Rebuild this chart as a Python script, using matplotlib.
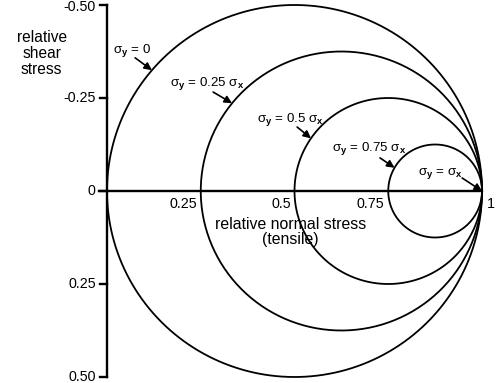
import numpy as np
import matplotlib.pyplot as plt

plt.rcParams['font.family'] = ['Liberation Sans', 'DejaVu Sans']
plt.rcParams['mathtext.fontset'] = 'custom'
plt.rcParams['mathtext.rm'] = 'Liberation Sans'
plt.rcParams['mathtext.it'] = 'Liberation Sans'
plt.rcParams['mathtext.bf'] = 'Liberation Sans:bold'

# ratio sigma_y / sigma_x for each Mohr circle
ratios = [0, 0.25, 0.5, 0.75, 1.0]
labels = [r'$\sigma_\mathbf{y}$ = 0', r'$\sigma_\mathbf{y}$ = 0.25 $\sigma_\mathbf{x}$',
          r'$\sigma_\mathbf{y}$ = 0.5 $\sigma_\mathbf{x}$', r'$\sigma_\mathbf{y}$ = 0.75 $\sigma_\mathbf{x}$',
          r'$\sigma_\mathbf{y}$ = $\sigma_\mathbf{x}$']
# where along each circle the arrow lands (degrees)
arrow_angle = [139.5, 141, 145.5, 150, 180]
text_pos = [(0.067, -0.379), (0.267, -0.290), (0.488, -0.191), (0.699, -0.113), (0.888, -0.046)]
arrow_start = [(0.075, -0.358), (0.283, -0.266), (0.507, -0.172), (0.728, -0.089), (0.947, -0.035)]

x_ticks = [0.25, 0.5, 0.75, 1]
x_ticklabels = ['0.25', '0.5', '0.75', '1']
y_ticks = [-0.5, -0.25, 0, 0.25, 0.5]
y_ticklabels = ['-0.50', '-0.25', '0', '0.25', '0.50']

fig = plt.figure(figsize=(5, 3.83), dpi=100)
ax = fig.add_axes([0, 0, 1, 1])
ax.set_xlim(-107 / 375, 393 / 375)
ax.set_ylim(192 / 372, -191 / 372)

t = np.linspace(0, 2 * np.pi, 400)
for r in ratios[:-1]:
    c = (1 + r) / 2
    R = (1 - r) / 2
    ax.plot(c + R * np.cos(t), R * np.sin(t), color='black', lw=1.3)

for r, lab, ang, tp, st in zip(ratios, labels, arrow_angle, text_pos, arrow_start):
    c = (1 + r) / 2
    R = (1 - r) / 2
    a = np.radians(ang)
    tip = (c + R * np.cos(a), -R * np.sin(a))
    ax.text(tp[0], tp[1], lab, ha='center', va='center', fontsize=9.6)
    ax.annotate('', xy=tip, xytext=st,
                arrowprops=dict(arrowstyle='-|>', color='black', lw=1.2,
                                mutation_scale=11, shrinkA=0, shrinkB=0))

# axes
ax.plot([-0.02, 1], [0, 0], color='black', lw=1.7)
ax.plot([0, 0], [-0.5, 0.5], color='black', lw=1.7)
for yv, yl in zip(y_ticks, y_ticklabels):
    ax.plot([-0.018, 0], [yv, yv], color='black', lw=1.7)
    ty = yv + 0.006 if yv == y_ticks[0] else yv
    ax.text(-0.03, ty, yl, ha='right', va='center', fontsize=10.3)
for xv, xl in zip(x_ticks[:-1], x_ticklabels[:-1]):
    ax.text(xv - 0.01, 0.036, xl, ha='right', va='center', fontsize=10.3)
ax.text(1.013, 0.036, x_ticklabels[-1], ha='left', va='center', fontsize=10.3)

ax.text(0.49, 0.11, 'relative normal stress\n(tensile)', ha='center', va='center',
        fontsize=11.4, linespacing=1.05)
ax.text(-0.174, -0.37, 'relative\nshear\nstress', ha='center', va='center',
        fontsize=11.2, linespacing=1.1)

ax.axis('off')
fig.savefig('out.png', dpi=100)
